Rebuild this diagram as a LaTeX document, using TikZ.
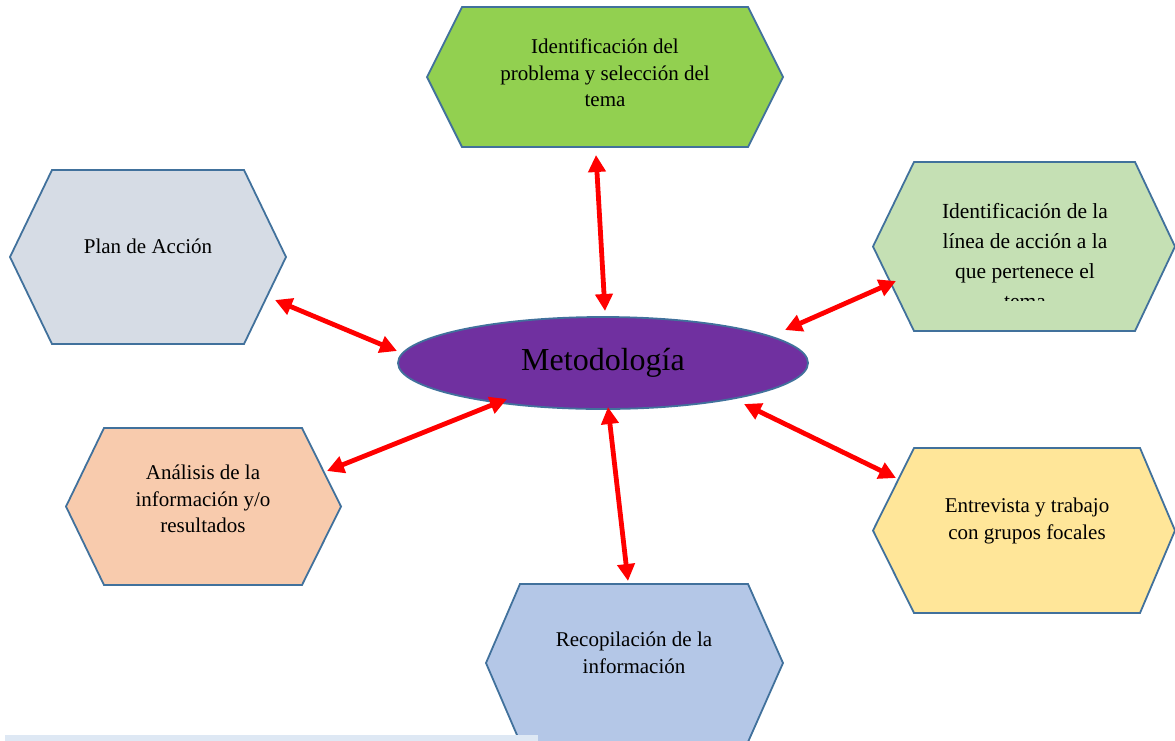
\documentclass[tikz,border=0pt]{standalone}
\usepackage{fontspec}
\setmainfont{Liberation Serif}
\usetikzlibrary{arrows.meta}
\definecolor{edge}{HTML}{41719C}
\definecolor{hA}{HTML}{92D050}
\definecolor{hB}{HTML}{C5E0B4}
\definecolor{hC}{HTML}{FFE699}
\definecolor{hD}{HTML}{B4C7E7}
\definecolor{hE}{HTML}{F8CBAD}
\definecolor{hF}{HTML}{D6DCE5}
\definecolor{purp}{HTML}{7030A0}
\definecolor{barc}{HTML}{DEE8F4}
\tikzset{
  hexshape/.style={draw=edge, line width=1.8pt, line join=miter},
  lbl/.style={align=center, font=\fontsize{21}{26.5}\selectfont, inner sep=0pt},
  link/.style={red, line width=4.8pt, {Triangle[length=17pt,width=17pt]}-{Triangle[length=17pt,width=17pt]}},
}
\newcommand\hexagon[7]{% fill, xl, xa, xb, xr, ytop, ybot
  \filldraw[hexshape, fill=#1] (#2,{(#6+#7)/2}) -- (#3,#6) -- (#4,#6) -- (#5,{(#6+#7)/2}) -- (#4,#7) -- (#3,#7) -- cycle;}
\begin{document}
\begin{tikzpicture}[x=1pt,y=-1pt]
\useasboundingbox (0,0) rectangle (1175,740);
% hexagons
\hexagon{hA}{427}{462}{748}{783}{7}{147}
\hexagon{hB}{873}{914}{1135}{1175}{162}{331}
\hexagon{hC}{873}{914}{1140}{1175}{448}{613}
\hexagon{hD}{486}{520}{748}{783}{584}{742}
\hexagon{hE}{66}{104}{302}{341}{428}{585}
\hexagon{hF}{10}{52}{244}{286}{170}{344}
% light bar at bottom
\fill[barc] (5,735) rectangle (538,742);
% labels
\node[lbl] (tA) at (605,73) {Identificación del\\problema y selección del\\tema};
\begin{scope}
\clip (880,165) rectangle (1170,300);
\node[lbl, font=\fontsize{21.5}{30}\selectfont] (tB) at (1025,256) {Identificación de la\\línea de acción a la\\que pertenece el\\tema};
\end{scope}
\node[lbl] (tC) at (1027,521) {Entrevista y trabajo\\con grupos focales};
\node[lbl] (tD) at (634,653) {Recopilación de la\\información};
\node[lbl] (tE) at (203,499) {Análisis de la\\información y/o\\resultados};
\node[lbl] (tF) at (148,246) {Plan de Acción};
% centre ellipse
\filldraw[draw=edge, line width=1.8pt, fill=purp] (603,363) ellipse [x radius=205, y radius=46];
\node[inner sep=0pt, font=\fontsize{32}{38}\selectfont] (met) at (603,363) {Metodología};
% arrow end points
\coordinate (a1) at (596,155); \coordinate (b1) at (605,311);
\coordinate (a2) at (896,281); \coordinate (b2) at (785,330);
\coordinate (a3) at (275,300); \coordinate (b3) at (397,351);
\coordinate (a4) at (507,399); \coordinate (b4) at (327,471);
\coordinate (a5) at (608,407); \coordinate (b5) at (628,581);
\coordinate (a6) at (744,404); \coordinate (b6) at (896,478);
\draw[link] (a1) -- (b1);
\draw[link] (a2) -- (b2);
\draw[link] (a3) -- (b3);
\draw[link] (a4) -- (b4);
\draw[link] (a5) -- (b5);
\draw[link] (a6) -- (b6);
\end{tikzpicture}
\end{document}
